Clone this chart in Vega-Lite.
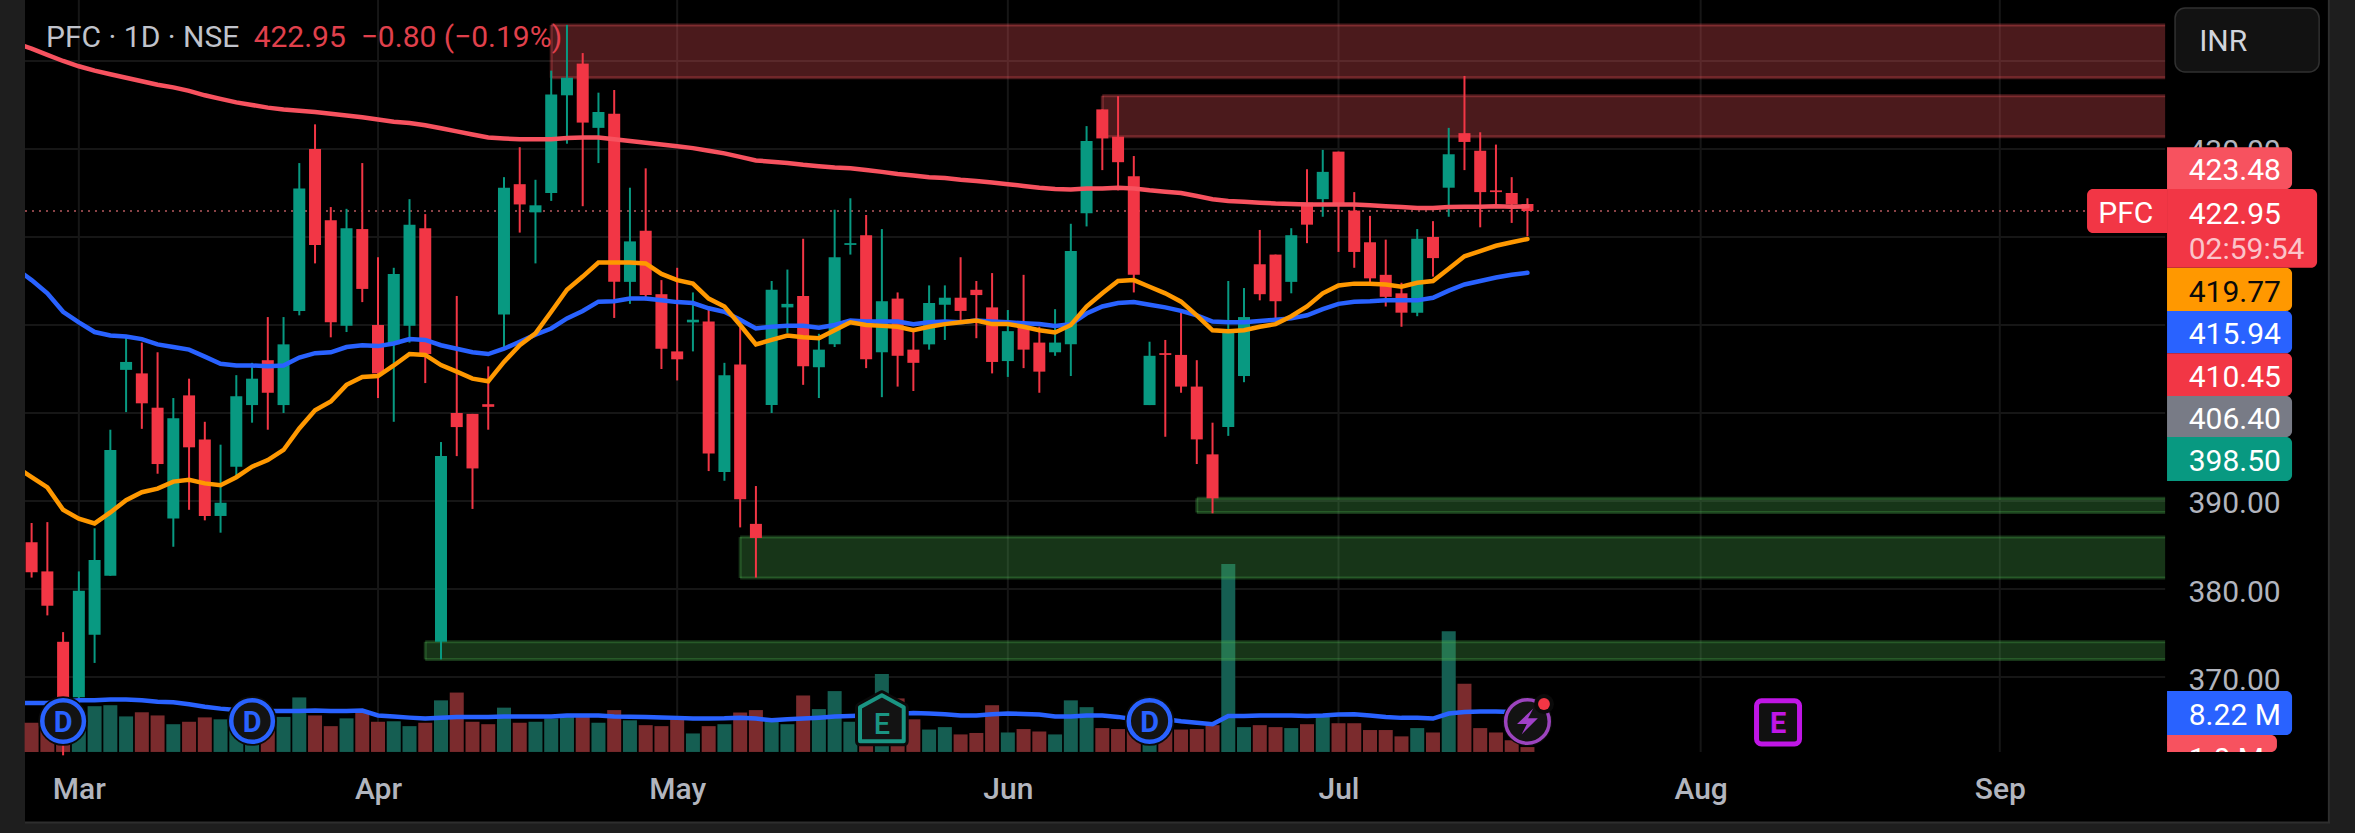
{
"$schema":"https://vega.github.io/schema/vega-lite/v6.json",
"autosize":{"type":"none"},
"padding":{"left":25,"right":25,"top":0,"bottom":10},
"width":2305,"height":823,
"background":"#1e1e1e",
"view":{"fill":"#000000","stroke":null},
"config":{"font":"Roboto","text":{"font":"Roboto"}},
"datasets":{
"candles":[
{"i":0,"open":385.3,"high":387.5,"low":381.3,"close":381.9,"volume":6.0},
{"i":1,"open":382.0,"high":387.6,"low":377.0,"close":378.1,"volume":6.0},
{"i":2,"open":374.0,"high":375.1,"low":361.1,"close":367.4,"volume":6.0},
{"i":3,"open":367.7,"high":382.0,"low":366.8,"close":379.8,"volume":6.5},
{"i":4,"open":374.8,"high":386.9,"low":371.6,"close":383.3,"volume":9.4},
{"i":5,"open":381.5,"high":398.1,"low":381.5,"close":395.8,"volume":9.6},
{"i":6,"open":404.9,"high":408.6,"low":400.1,"close":405.8,"volume":7.3},
{"i":7,"open":404.5,"high":408.0,"low":398.2,"close":401.1,"volume":8.15},
{"i":8,"open":400.6,"high":406.9,"low":393.1,"close":394.2,"volume":7.5},
{"i":9,"open":388.0,"high":401.7,"low":384.8,"close":399.4,"volume":5.7},
{"i":10,"open":402.0,"high":403.9,"low":389.0,"close":396.1,"volume":6.2},
{"i":11,"open":397.0,"high":399.0,"low":387.8,"close":388.3,"volume":7.1},
{"i":12,"open":388.3,"high":396.4,"low":386.4,"close":389.8,"volume":6.7},
{"i":13,"open":393.9,"high":404.3,"low":392.5,"close":401.9,"volume":6.0},
{"i":14,"open":400.9,"high":405.7,"low":398.9,"close":403.9,"volume":6.0},
{"i":15,"open":406.0,"high":410.9,"low":398.1,"close":402.3,"volume":6.0},
{"i":16,"open":400.9,"high":410.9,"low":400.0,"close":407.8,"volume":7.2},
{"i":17,"open":411.6,"high":428.4,"low":411.1,"close":425.5,"volume":11.2},
{"i":18,"open":430.0,"high":432.8,"low":417.0,"close":419.1,"volume":7.5},
{"i":19,"open":421.9,"high":423.4,"low":408.6,"close":410.3,"volume":5.3},
{"i":20,"open":409.9,"high":423.2,"low":409.2,"close":421.0,"volume":6.9},
{"i":21,"open":420.9,"high":428.4,"low":412.6,"close":414.1,"volume":8.2},
{"i":22,"open":410.0,"high":417.7,"low":401.7,"close":404.5,"volume":6.2},
{"i":23,"open":407.8,"high":416.5,"low":399.0,"close":415.8,"volume":6.3},
{"i":24,"open":409.9,"high":424.3,"low":408.0,"close":421.4,"volume":5.3},
{"i":25,"open":421.0,"high":422.6,"low":403.4,"close":406.7,"volume":6.0},
{"i":26,"open":374.0,"high":396.7,"low":372.0,"close":395.1,"volume":10.6},
{"i":27,"open":400.0,"high":413.3,"low":395.1,"close":398.4,"volume":12.2},
{"i":28,"open":399.9,"high":399.9,"low":389.1,"close":393.7,"volume":6.2},
{"i":29,"open":401.0,"high":405.3,"low":398.1,"close":400.7,"volume":5.7},
{"i":30,"open":411.2,"high":426.8,"low":407.5,"close":425.6,"volume":9.1},
{"i":31,"open":426.0,"high":430.2,"low":420.5,"close":423.7,"volume":6.0},
{"i":32,"open":422.8,"high":426.5,"low":417.0,"close":423.6,"volume":6.2},
{"i":33,"open":425.0,"high":438.9,"low":424.1,"close":436.2,"volume":6.85},
{"i":34,"open":436.1,"high":444.1,"low":430.6,"close":438.1,"volume":7.2},
{"i":35,"open":439.7,"high":440.9,"low":423.5,"close":433.0,"volume":7.5},
{"i":36,"open":432.4,"high":436.4,"low":428.4,"close":434.2,"volume":6.0},
{"i":37,"open":434.0,"high":436.7,"low":410.8,"close":414.9,"volume":8.6},
{"i":38,"open":414.9,"high":425.6,"low":412.4,"close":419.5,"volume":6.5},
{"i":39,"open":420.7,"high":427.8,"low":412.8,"close":413.4,"volume":5.5},
{"i":40,"open":413.5,"high":415.1,"low":405.0,"close":407.3,"volume":5.3},
{"i":41,"open":407.0,"high":416.5,"low":403.7,"close":406.1,"volume":7.2},
{"i":42,"open":410.3,"high":413.7,"low":407.0,"close":410.6,"volume":3.8},
{"i":43,"open":410.4,"high":411.9,"low":393.4,"close":395.4,"volume":5.3},
{"i":44,"open":393.3,"high":405.7,"low":392.3,"close":404.3,"volume":5.7},
{"i":45,"open":405.5,"high":409.7,"low":387.0,"close":390.2,"volume":8.1},
{"i":46,"open":387.4,"high":391.7,"low":381.3,"close":385.8,"volume":8.6},
{"i":47,"open":400.9,"high":415.0,"low":400.0,"close":414.0,"volume":6.5},
{"i":48,"open":412.0,"high":416.3,"low":409.1,"close":412.4,"volume":5.7},
{"i":49,"open":413.3,"high":419.8,"low":403.2,"close":405.3,"volume":11.6},
{"i":50,"open":405.2,"high":409.0,"low":401.7,"close":407.2,"volume":8.8},
{"i":51,"open":407.8,"high":423.1,"low":407.5,"close":417.7,"volume":12.5},
{"i":52,"open":419.1,"high":424.4,"low":418.0,"close":419.3,"volume":6.2},
{"i":53,"open":420.2,"high":422.5,"low":405.1,"close":406.1,"volume":5.0},
{"i":54,"open":406.9,"high":420.9,"low":401.8,"close":412.7,"volume":16.0},
{"i":55,"open":413.0,"high":413.7,"low":403.0,"close":406.5,"volume":11.0},
{"i":56,"open":407.2,"high":409.4,"low":402.5,"close":405.7,"volume":6.7},
{"i":57,"open":407.8,"high":414.5,"low":407.2,"close":412.5,"volume":4.6},
{"i":58,"open":412.3,"high":414.5,"low":408.3,"close":413.1,"volume":5.1},
{"i":59,"open":413.1,"high":417.7,"low":410.3,"close":411.6,"volume":3.6},
{"i":60,"open":414.0,"high":415.0,"low":408.5,"close":413.4,"volume":3.9},
{"i":61,"open":412.0,"high":415.9,"low":404.5,"close":405.8,"volume":9.6},
{"i":62,"open":405.9,"high":411.7,"low":404.1,"close":409.3,"volume":4.0},
{"i":63,"open":409.9,"high":415.7,"low":405.1,"close":407.2,"volume":4.7},
{"i":64,"open":408.0,"high":409.8,"low":402.3,"close":404.7,"volume":4.2},
{"i":65,"open":406.9,"high":411.8,"low":406.5,"close":408.0,"volume":3.6},
{"i":66,"open":407.8,"high":421.5,"low":404.2,"close":418.4,"volume":10.6},
{"i":67,"open":422.7,"high":432.6,"low":421.2,"close":430.9,"volume":9.2},
{"i":68,"open":434.5,"high":434.5,"low":427.6,"close":431.2,"volume":4.9},
{"i":69,"open":431.4,"high":436.0,"low":425.3,"close":428.5,"volume":4.7},
{"i":70,"open":426.9,"high":429.2,"low":413.7,"close":415.7,"volume":5.0},
{"i":71,"open":400.9,"high":408.1,"low":400.9,"close":406.5,"volume":5.0},
{"i":72,"open":406.8,"high":408.3,"low":397.3,"close":406.6,"volume":4.5},
{"i":73,"open":406.6,"high":411.5,"low":402.3,"close":403.0,"volume":4.6},
{"i":74,"open":403.0,"high":406.0,"low":394.2,"close":397.0,"volume":4.7},
{"i":75,"open":395.3,"high":398.9,"low":388.6,"close":390.3,"volume":5.5},
{"i":76,"open":398.4,"high":415.0,"low":397.4,"close":409.1,"volume":38.6},
{"i":77,"open":404.2,"high":414.2,"low":403.5,"close":410.9,"volume":5.1},
{"i":78,"open":416.9,"high":420.8,"low":412.8,"close":413.5,"volume":5.5},
{"i":79,"open":418.0,"high":418.0,"low":410.3,"close":412.7,"volume":5.1},
{"i":80,"open":414.9,"high":421.0,"low":413.6,"close":420.2,"volume":4.9},
{"i":81,"open":423.9,"high":427.7,"low":419.3,"close":421.4,"volume":5.7},
{"i":82,"open":424.3,"high":429.9,"low":422.3,"close":427.4,"volume":7.5},
{"i":83,"open":429.7,"high":429.7,"low":418.3,"close":423.6,"volume":5.9},
{"i":84,"open":423.0,"high":425.1,"low":416.5,"close":418.3,"volume":5.9},
{"i":85,"open":419.4,"high":422.4,"low":414.8,"close":415.3,"volume":4.5},
{"i":86,"open":415.7,"high":419.7,"low":412.1,"close":413.2,"volume":4.5},
{"i":87,"open":413.6,"high":414.8,"low":409.8,"close":411.4,"volume":3.2},
{"i":88,"open":411.4,"high":420.9,"low":411.0,"close":419.8,"volume":4.9},
{"i":89,"open":420.0,"high":421.8,"low":415.5,"close":417.6,"volume":4.0},
{"i":90,"open":425.6,"high":432.4,"low":422.3,"close":429.4,"volume":24.8},
{"i":91,"open":431.8,"high":438.3,"low":427.6,"close":430.8,"volume":14.0},
{"i":92,"open":429.8,"high":431.9,"low":421.1,"close":425.1,"volume":4.9},
{"i":93,"open":425.3,"high":430.5,"low":423.4,"close":425.1,"volume":4.0},
{"i":94,"open":425.0,"high":426.8,"low":421.6,"close":423.7,"volume":2.4},
{"i":95,"open":423.75,"high":424.4,"low":420.1,"close":422.95,"volume":1.0}
],
"averages":[
{"i":-1,"sma200":442.0,"ema50":416.4,"ema20":393.9,"volMA":10.07},
{"i":0,"sma200":441.4,"ema50":415.1,"ema20":392.7,"volMA":10.07},
{"i":1,"sma200":440.7,"ema50":413.6,"ema20":391.55,"volMA":10.07},
{"i":2,"sma200":440.0,"ema50":411.5,"ema20":389.0,"volMA":10.3},
{"i":3,"sma200":439.4,"ema50":410.3,"ema20":388.0,"volMA":10.6},
{"i":4,"sma200":438.9,"ema50":409.2,"ema20":387.45,"volMA":10.6},
{"i":5,"sma200":438.5,"ema50":408.8,"ema20":388.7,"volMA":10.75},
{"i":6,"sma200":438.1,"ema50":408.7,"ema20":390.1,"volMA":10.75},
{"i":7,"sma200":437.7,"ema50":408.4,"ema20":391.0,"volMA":10.6},
{"i":8,"sma200":437.3,"ema50":407.8,"ema20":391.4,"volMA":10.3},
{"i":9,"sma200":437.0,"ema50":407.5,"ema20":392.2,"volMA":10.2},
{"i":10,"sma200":436.6,"ema50":407.2,"ema20":392.4,"volMA":9.8},
{"i":11,"sma200":436.1,"ema50":406.4,"ema20":392.0,"volMA":9.3},
{"i":12,"sma200":435.7,"ema50":405.6,"ema20":391.8,"volMA":8.9},
{"i":13,"sma200":435.3,"ema50":405.4,"ema20":392.7,"volMA":8.6},
{"i":14,"sma200":435.0,"ema50":405.4,"ema20":393.9,"volMA":8.5},
{"i":15,"sma200":434.7,"ema50":405.3,"ema20":394.65,"volMA":8.4},
{"i":16,"sma200":434.5,"ema50":405.4,"ema20":395.8,"volMA":8.4},
{"i":17,"sma200":434.35,"ema50":406.3,"ema20":398.25,"volMA":8.4},
{"i":18,"sma200":434.2,"ema50":406.8,"ema20":400.3,"volMA":8.5},
{"i":19,"sma200":434.0,"ema50":406.9,"ema20":401.3,"volMA":8.4},
{"i":20,"sma200":433.8,"ema50":407.5,"ema20":403.2,"volMA":8.4},
{"i":21,"sma200":433.6,"ema50":407.7,"ema20":404.1,"volMA":8.5},
{"i":22,"sma200":433.35,"ema50":407.6,"ema20":404.2,"volMA":7.5},
{"i":23,"sma200":433.1,"ema50":407.9,"ema20":405.4,"volMA":7.3},
{"i":24,"sma200":432.95,"ema50":408.4,"ema20":406.7,"volMA":7.05},
{"i":25,"sma200":432.7,"ema50":408.3,"ema20":406.6,"volMA":6.85},
{"i":26,"sma200":432.35,"ema50":407.7,"ema20":405.45,"volMA":7.05},
{"i":27,"sma200":432.0,"ema50":407.3,"ema20":404.7,"volMA":7.2},
{"i":28,"sma200":431.65,"ema50":406.9,"ema20":403.9,"volMA":7.2},
{"i":29,"sma200":431.3,"ema50":406.7,"ema20":403.6,"volMA":7.2},
{"i":30,"sma200":431.2,"ema50":407.3,"ema20":405.8,"volMA":7.3},
{"i":31,"sma200":431.1,"ema50":408.1,"ema20":407.7,"volMA":7.3},
{"i":32,"sma200":431.1,"ema50":408.9,"ema20":409.05,"volMA":7.3},
{"i":33,"sma200":431.1,"ema50":409.6,"ema20":411.5,"volMA":7.3},
{"i":34,"sma200":431.25,"ema50":410.75,"ema20":414.0,"volMA":7.5},
{"i":35,"sma200":431.3,"ema50":411.6,"ema20":415.5,"volMA":7.5},
{"i":36,"sma200":431.3,"ema50":412.65,"ema20":417.1,"volMA":7.5},
{"i":37,"sma200":431.1,"ema50":412.7,"ema20":417.1,"volMA":7.3},
{"i":38,"sma200":430.9,"ema50":413.0,"ema20":417.1,"volMA":7.25},
{"i":39,"sma200":430.7,"ema50":413.0,"ema20":417.0,"volMA":7.2},
{"i":40,"sma200":430.5,"ema50":412.8,"ema20":415.8,"volMA":7.1},
{"i":41,"sma200":430.3,"ema50":412.6,"ema20":415.1,"volMA":7.0},
{"i":42,"sma200":430.1,"ema50":412.5,"ema20":414.7,"volMA":6.85},
{"i":43,"sma200":429.8,"ema50":411.9,"ema20":413.0,"volMA":6.85},
{"i":44,"sma200":429.5,"ema50":411.5,"ema20":412.1,"volMA":6.9},
{"i":45,"sma200":429.1,"ema50":410.6,"ema20":410.0,"volMA":7.05},
{"i":46,"sma200":428.7,"ema50":409.6,"ema20":407.8,"volMA":6.85},
{"i":47,"sma200":428.55,"ema50":409.8,"ema20":408.3,"volMA":6.5},
{"i":48,"sma200":428.4,"ema50":409.9,"ema20":408.8,"volMA":6.7},
{"i":49,"sma200":428.2,"ema50":409.9,"ema20":408.6,"volMA":6.85},
{"i":50,"sma200":428.05,"ema50":409.7,"ema20":408.5,"volMA":7.05},
{"i":51,"sma200":427.9,"ema50":410.0,"ema20":409.4,"volMA":7.3},
{"i":52,"sma200":427.8,"ema50":410.5,"ema20":410.3,"volMA":7.4},
{"i":53,"sma200":427.6,"ema50":410.4,"ema20":410.0,"volMA":7.5},
{"i":54,"sma200":427.4,"ema50":410.4,"ema20":409.9,"volMA":7.6},
{"i":55,"sma200":427.15,"ema50":410.4,"ema20":409.8,"volMA":7.8},
{"i":56,"sma200":427.0,"ema50":410.1,"ema20":409.4,"volMA":8.0},
{"i":57,"sma200":426.8,"ema50":410.3,"ema20":409.8,"volMA":7.9},
{"i":58,"sma200":426.7,"ema50":410.4,"ema20":410.1,"volMA":7.75},
{"i":59,"sma200":426.5,"ema50":410.3,"ema20":410.3,"volMA":7.5},
{"i":60,"sma200":426.35,"ema50":410.5,"ema20":410.5,"volMA":7.5},
{"i":61,"sma200":426.2,"ema50":410.4,"ema20":410.1,"volMA":7.75},
{"i":62,"sma200":426.0,"ema50":410.3,"ema20":410.1,"volMA":7.9},
{"i":63,"sma200":425.8,"ema50":410.2,"ema20":409.8,"volMA":7.8},
{"i":64,"sma200":425.6,"ema50":410.1,"ema20":409.4,"volMA":7.7},
{"i":65,"sma200":425.45,"ema50":409.9,"ema20":409.15,"volMA":7.3},
{"i":66,"sma200":425.4,"ema50":410.1,"ema20":410.0,"volMA":7.3},
{"i":67,"sma200":425.5,"ema50":411.3,"ema20":412.1,"volMA":7.5},
{"i":68,"sma200":425.5,"ema50":412.1,"ema20":413.6,"volMA":7.5},
{"i":69,"sma200":425.6,"ema50":412.5,"ema20":415.0,"volMA":7.2},
{"i":70,"sma200":425.5,"ema50":412.6,"ema20":415.1,"volMA":6.7},
{"i":71,"sma200":425.3,"ema50":412.3,"ema20":414.35,"volMA":6.5},
{"i":72,"sma200":425.15,"ema50":412.0,"ema20":413.6,"volMA":6.7},
{"i":73,"sma200":425.0,"ema50":411.6,"ema20":412.65,"volMA":6.3},
{"i":74,"sma200":424.65,"ema50":411.1,"ema20":411.1,"volMA":6.0},
{"i":75,"sma200":424.3,"ema50":410.4,"ema20":409.4,"volMA":5.7},
{"i":76,"sma200":424.1,"ema50":410.3,"ema20":409.3,"volMA":7.4},
{"i":77,"sma200":424.0,"ema50":410.3,"ema20":409.4,"volMA":7.4},
{"i":78,"sma200":423.9,"ema50":410.45,"ema20":409.8,"volMA":7.5},
{"i":79,"sma200":423.8,"ema50":410.6,"ema20":410.1,"volMA":7.5},
{"i":80,"sma200":423.75,"ema50":410.75,"ema20":411.0,"volMA":7.5},
{"i":81,"sma200":423.7,"ema50":411.1,"ema20":412.1,"volMA":7.4},
{"i":82,"sma200":423.7,"ema50":411.8,"ema20":413.6,"volMA":7.5},
{"i":83,"sma200":423.7,"ema50":412.4,"ema20":414.5,"volMA":7.7},
{"i":84,"sma200":423.7,"ema50":412.65,"ema20":414.7,"volMA":7.75},
{"i":85,"sma200":423.6,"ema50":412.7,"ema20":414.7,"volMA":7.5},
{"i":86,"sma200":423.5,"ema50":412.8,"ema20":414.6,"volMA":7.2},
{"i":87,"sma200":423.4,"ema50":412.8,"ema20":414.35,"volMA":7.0},
{"i":88,"sma200":423.3,"ema50":412.8,"ema20":414.8,"volMA":7.0},
{"i":89,"sma200":423.3,"ema50":413.1,"ema20":415.0,"volMA":6.85},
{"i":90,"sma200":423.4,"ema50":413.9,"ema20":416.4,"volMA":7.9},
{"i":91,"sma200":423.45,"ema50":414.6,"ema20":417.8,"volMA":8.2},
{"i":92,"sma200":423.45,"ema50":415.0,"ema20":418.4,"volMA":8.3},
{"i":93,"sma200":423.5,"ema50":415.4,"ema20":419.0,"volMA":8.3},
{"i":94,"sma200":423.45,"ema50":415.7,"ema20":419.4,"volMA":8.2},
{"i":95,"sma200":423.48,"ema50":415.94,"ema20":419.77,"volMA":8.22}
],
"hgrid":[{"price":440,"from":-0.42,"to":135.5},{"price":430,"from":-0.42,"to":135.5},{"price":420,"from":-0.42,"to":135.5},{"price":410,"from":-0.42,"to":135.5},{"price":400,"from":-0.42,"to":135.5},{"price":390,"from":-0.42,"to":135.5},{"price":380,"from":-0.42,"to":135.5},{"price":370,"from":-0.42,"to":135.5}],
"vgrid":[{"i":3,"top":446.93,"bottom":361.47},{"i":22,"top":446.93,"bottom":361.47},{"i":41,"top":446.93,"bottom":361.47},{"i":62,"top":446.93,"bottom":361.47},{"i":83,"top":446.93,"bottom":361.47},{"i":106,"top":446.93,"bottom":361.47},{"i":125,"top":446.93,"bottom":361.47}],
"redZones":[{"from":33,"to":135.5,"top":444.1,"bottom":438.1},{"from":68,"to":135.5,"top":436.05,"bottom":431.4}],
"greenZones":[{"from":74,"to":135.5,"top":390.3,"bottom":388.7},{"from":45,"to":135.5,"top":385.9,"bottom":381.25},{"from":25,"to":135.5,"top":374.0,"bottom":372.0}],
"lastPrice":[{"price":422.95,"from":-0.42,"to":130.5}],
"frame":[{"x":145.9,"top":446.93,"bottom":353.41}],
"frameB":[{"price":353.46,"from":-0.42,"to":145.97}],
"tagBoxes":[
{"series":"sma200","from":135.62,"to":143.56,"top":430.2,"bottom":425.45},
{"series":"vol","from":135.62,"to":143.56,"top":368.4,"bottom":363.4},
{"series":"sma200","from":135.62,"to":142.6,"top":363.4,"bottom":361.47},
{"series":"ema20","from":135.62,"to":143.56,"top":416.5,"bottom":411.6},
{"series":"ema50","from":135.62,"to":143.56,"top":411.6,"bottom":406.8},
{"series":"last","from":135.62,"to":143.56,"top":406.8,"bottom":401.93},
{"series":"ma","from":135.62,"to":143.56,"top":401.93,"bottom":397.27},
{"series":"up","from":135.62,"to":143.56,"top":397.27,"bottom":392.27},
{"series":"last","from":135.62,"to":145.15,"top":425.45,"bottom":416.5}
],
"tabBox":[{"from":130.54,"to":135.62,"top":425.45,"bottom":420.45}],
"tagText":[
{"i":137,"price":427.84,"label":"423.48","series":"white"},
{"i":137,"price":422.84,"label":"422.95","series":"white"},
{"i":137,"price":418.9,"label":"02:59:54","series":"timer"},
{"i":137,"price":414.03,"label":"419.77","series":"dark"},
{"i":137,"price":409.2,"label":"415.94","series":"white"},
{"i":137,"price":404.37,"label":"410.45","series":"white"},
{"i":137,"price":399.6,"label":"406.40","series":"white"},
{"i":137,"price":394.77,"label":"398.50","series":"white"},
{"i":137,"price":365.9,"label":"8.22 M","series":"white"},
{"i":137,"price":360.9,"label":"1.0 M","series":"white"}
],
"tabText":[{"i":133,"price":422.9,"label":"PFC"}],
"mask":[{"from":135.5,"to":144,"top":361.47,"bottom":356}],
"inrBox":[{"from":136.13,"to":145.28,"top":446.02,"bottom":438.75}],
"inrText":[{"i":137.66,"price":442.38,"label":"INR"}],
"headerGrey":[{"i":0.915,"price":442.84,"label":"PFC · 1D · NSE"}],
"headerRed":[{"i":14.1,"price":442.84,"label":"422.95\u00a0\u00a0−0.80 (−0.19%)"}],
"dividends":[{"i":2,"price":365.0,"label":"D"},{"i":14,"price":365.0,"label":"D"},{"i":71,"price":365.0,"label":"D"}],
"earnings":[{"i":54,"price":365.3,"label":"E"}],
"futureEarningsBox":[{"from":109.55,"to":112.28,"top":367.3,"bottom":362.4}],
"futureEarningsText":[{"i":110.92,"price":364.85,"label":"E"}],
"bolt":[{"i":95,"price":364.95}],
"alert":[{"i":96.05,"price":366.93}]
},
"encoding":{"x":{"field":"i","type":"quantitative","title":null,"scale":{"domain":[-0.42,145.97],"nice":false,"zero":false,"padding":0},
"axis":{"orient":"bottom","offset":-49,"values":[3,22,41,62,83,106,125],"grid":false,"domain":false,"ticks":false,"labelPadding":0,"labelFontSize":30,"labelFontWeight":500,"labelColor":"#b2b5be","labelFont":"Roboto","labelOverlap":false,"labelFlush":false,"labelBaseline":"top","labelExpr":"datum.value==3?'Mar':datum.value==22?'Apr':datum.value==41?'May':datum.value==62?'Jun':datum.value==83?'Jul':datum.value==106?'Aug':'Sep'"}}},
"resolve":{"scale":{"y":"independent"}},
"layer":[
{"data":{"name":"hgrid"},"mark":{"type":"rule","stroke":"#161616","strokeWidth":2},
 "encoding":{"x":{"field":"from","type":"quantitative"},"x2":{"field":"to"},
 "y":{"field":"price","type":"quantitative","scale":{"domain":[353.41,446.93],"nice":false,"zero":false},"title":null,
 "axis":{"orient":"right","offset":-142,"values":[370,380,390,430],"format":".2f","grid":false,"domain":false,"ticks":false,"labelPadding":0,"labelOffset":3,"labelFontSize":30,"labelColor":"#b2b5be","labelFont":"Roboto","labelOverlap":false,"labelFlush":false}}}},
{"layer":[
{"data":{"name":"vgrid"},"mark":{"type":"rule","stroke":"#161616","strokeWidth":2},
 "encoding":{"y":{"field":"top","type":"quantitative","axis":null,"scale":{"domain":[353.41,446.93],"nice":false,"zero":false}},"y2":{"field":"bottom"}}},
{"data":{"name":"frame"},"mark":{"type":"rule","stroke":"#2e2e2e","strokeWidth":2},
 "encoding":{"x":{"field":"x","type":"quantitative"},"y":{"field":"top","type":"quantitative","axis":null},"y2":{"field":"bottom"}}},
{"data":{"name":"frameB"},"mark":{"type":"rule","stroke":"#2e2e2e","strokeWidth":2},
 "encoding":{"x":{"field":"from","type":"quantitative"},"x2":{"field":"to"},"y":{"field":"price","type":"quantitative","axis":null}}}
]},
{"data":{"name":"candles"},"mark":{"type":"bar","size":14},
 "encoding":{"y":{"field":"volume","type":"quantitative","stack":null,"axis":null,"scale":{"domain":[-14.6,154.5],"nice":false,"zero":false}},
 "color":{"condition":{"test":"datum.close>=datum.open","value":"#155e52"},"value":"#7b2b2d"}}},
{"layer":[
{"data":{"name":"redZones"},"mark":{"type":"rect","fill":"#f7575d","fillOpacity":0.3},
 "encoding":{"x":{"field":"from","type":"quantitative"},"x2":{"field":"to"},"y":{"field":"top","type":"quantitative","axis":null,"scale":{"domain":[353.41,446.93],"nice":false,"zero":false}},"y2":{"field":"bottom"}}},
{"data":{"name":"redZones"},"mark":{"type":"rule","stroke":"#f7575d","strokeOpacity":0.3,"strokeWidth":3},
 "encoding":{"x":{"field":"from","type":"quantitative"},"x2":{"field":"to"},"y":{"field":"top","type":"quantitative","axis":null}}},
{"data":{"name":"redZones"},"mark":{"type":"rule","stroke":"#f7575d","strokeOpacity":0.3,"strokeWidth":3},
 "encoding":{"x":{"field":"from","type":"quantitative"},"x2":{"field":"to"},"y":{"field":"bottom","type":"quantitative","axis":null}}},
{"data":{"name":"redZones"},"mark":{"type":"rule","stroke":"#f7575d","strokeOpacity":0.3,"strokeWidth":3},
 "encoding":{"x":{"field":"from","type":"quantitative"},"y":{"field":"top","type":"quantitative","axis":null},"y2":{"field":"bottom"}}},
{"data":{"name":"greenZones"},"mark":{"type":"rect","fill":"#4caf50","fillOpacity":0.3},
 "encoding":{"x":{"field":"from","type":"quantitative"},"x2":{"field":"to"},"y":{"field":"top","type":"quantitative","axis":null},"y2":{"field":"bottom"}}},
{"data":{"name":"greenZones"},"mark":{"type":"rule","stroke":"#4caf50","strokeOpacity":0.3,"strokeWidth":3},
 "encoding":{"x":{"field":"from","type":"quantitative"},"x2":{"field":"to"},"y":{"field":"top","type":"quantitative","axis":null}}},
{"data":{"name":"greenZones"},"mark":{"type":"rule","stroke":"#4caf50","strokeOpacity":0.3,"strokeWidth":3},
 "encoding":{"x":{"field":"from","type":"quantitative"},"x2":{"field":"to"},"y":{"field":"bottom","type":"quantitative","axis":null}}},
{"data":{"name":"greenZones"},"mark":{"type":"rule","stroke":"#4caf50","strokeOpacity":0.3,"strokeWidth":3},
 "encoding":{"x":{"field":"from","type":"quantitative"},"y":{"field":"top","type":"quantitative","axis":null},"y2":{"field":"bottom"}}},
{"data":{"name":"lastPrice"},"mark":{"type":"rule","stroke":"#b85a5f","strokeWidth":1.5,"strokeDash":[2,5]},
 "encoding":{"x":{"field":"from","type":"quantitative"},"x2":{"field":"to"},"y":{"field":"price","type":"quantitative","axis":null}}},
{"data":{"name":"candles"},"mark":{"type":"rule","strokeWidth":2},
 "encoding":{"y":{"field":"high","type":"quantitative","axis":null},"y2":{"field":"low"},
 "color":{"condition":{"test":"datum.close>=datum.open","value":"#089981"},"value":"#f23645"}}},
{"data":{"name":"candles"},"mark":{"type":"bar","size":12},
 "encoding":{"y":{"field":"open","type":"quantitative","axis":null},"y2":{"field":"close"},
 "color":{"condition":{"test":"datum.close>=datum.open","value":"#089981"},"value":"#f23645"}}},
{"data":{"name":"averages"},"mark":{"type":"line","stroke":"#f7525f","strokeWidth":4.5,"clip":true,"strokeCap":"round"},
 "encoding":{"y":{"field":"sma200","type":"quantitative","axis":null}}},
{"data":{"name":"averages"},"mark":{"type":"line","stroke":"#2962ff","strokeWidth":4.5,"clip":true,"strokeCap":"round"},
 "encoding":{"y":{"field":"ema50","type":"quantitative","axis":null}}},
{"data":{"name":"averages"},"mark":{"type":"line","stroke":"#ff9800","strokeWidth":4.5,"clip":true,"strokeCap":"round"},
 "encoding":{"y":{"field":"ema20","type":"quantitative","axis":null}}}
]},
{"data":{"name":"averages"},"mark":{"type":"line","stroke":"#2962ff","strokeWidth":4.5,"clip":true},
 "encoding":{"y":{"field":"volMA","type":"quantitative","axis":null,"scale":{"domain":[-14.6,154.5],"nice":false,"zero":false}}}},
{"layer":[
{"data":{"name":"dividends"},"mark":{"type":"point","shape":"circle","filled":true,"fill":"#0a0a0a","size":2460,"opacity":1},
 "encoding":{"y":{"field":"price","type":"quantitative","axis":null,"scale":{"domain":[353.41,446.93],"nice":false,"zero":false}}}},
{"data":{"name":"dividends"},"mark":{"type":"point","shape":"circle","fill":"#131313","stroke":"#2962ff","strokeWidth":4.5,"size":1735,"opacity":1},
 "encoding":{"y":{"field":"price","type":"quantitative","axis":null}}},
{"data":{"name":"dividends"},"mark":{"type":"text","fontSize":29,"fontWeight":700,"color":"#2962ff","align":"center","baseline":"middle","dy":2},
 "encoding":{"y":{"field":"price","type":"quantitative","axis":null},"text":{"field":"label"}}},
{"data":{"name":"earnings"},"mark":{"type":"point","shape":"M0,-1 L0.95,-0.48 L0.95,1 L-0.95,1 L-0.95,-0.48 Z","fill":"#131313","stroke":"#0a0a0a","strokeWidth":10,"strokeJoin":"round","size":2116,"opacity":1},
 "encoding":{"y":{"field":"price","type":"quantitative","axis":null}}},
{"data":{"name":"earnings"},"mark":{"type":"point","shape":"M0,-1 L0.95,-0.48 L0.95,1 L-0.95,1 L-0.95,-0.48 Z","fill":"#131313","stroke":"#1a9583","strokeWidth":4,"strokeJoin":"round","size":2116,"opacity":1},
 "encoding":{"y":{"field":"price","type":"quantitative","axis":null}}},
{"data":{"name":"earnings"},"mark":{"type":"text","fontSize":29,"fontWeight":500,"color":"#1a9583","align":"center","baseline":"middle","dy":7},
 "encoding":{"y":{"field":"price","type":"quantitative","axis":null},"text":{"field":"label"}}},
{"data":{"name":"bolt"},"mark":{"type":"point","shape":"circle","filled":true,"fill":"#0a0a0a","size":2460,"opacity":1},
 "encoding":{"y":{"field":"price","type":"quantitative","axis":null}}},
{"data":{"name":"bolt"},"mark":{"type":"point","shape":"circle","fill":"#131313","stroke":"#9c44be","strokeWidth":3.5,"size":1900,"opacity":1},
 "encoding":{"y":{"field":"price","type":"quantitative","axis":null}}},
{"data":{"name":"bolt"},"mark":{"type":"point","shape":"M0.45,-1 L-0.8,0.2 L-0.05,0.2 L-0.45,1 L0.8,-0.25 L0.05,-0.25 Z","filled":true,"fill":"#a040c8","size":676,"opacity":1},
 "encoding":{"y":{"field":"price","type":"quantitative","axis":null}}},
{"data":{"name":"alert"},"mark":{"type":"point","shape":"circle","filled":true,"fill":"#0a0a0a","size":400,"opacity":1},
 "encoding":{"y":{"field":"price","type":"quantitative","axis":null}}},
{"data":{"name":"alert"},"mark":{"type":"point","shape":"circle","filled":true,"fill":"#f23645","size":140,"opacity":1},
 "encoding":{"y":{"field":"price","type":"quantitative","axis":null}}},
{"data":{"name":"futureEarningsBox"},"mark":{"type":"rect","fill":"#111111","stroke":"#c016e6","strokeWidth":5,"cornerRadius":5},
 "encoding":{"x":{"field":"from","type":"quantitative"},"x2":{"field":"to"},"y":{"field":"top","type":"quantitative","axis":null},"y2":{"field":"bottom"}}},
{"data":{"name":"futureEarningsText"},"mark":{"type":"text","fontSize":29,"fontWeight":700,"color":"#c016e6","align":"center","baseline":"middle","dy":2},
 "encoding":{"y":{"field":"price","type":"quantitative","axis":null},"text":{"field":"label"}}},
{"data":{"name":"tabBox"},"mark":{"type":"rect","fill":"#f23645","cornerRadiusTopLeft":6,"cornerRadiusBottomLeft":6},
 "encoding":{"x":{"field":"from","type":"quantitative"},"x2":{"field":"to"},"y":{"field":"top","type":"quantitative","axis":null},"y2":{"field":"bottom"}}},
{"data":{"name":"tagBoxes"},"mark":{"type":"rect","cornerRadiusTopRight":6,"cornerRadiusBottomRight":6},
 "encoding":{"x":{"field":"from","type":"quantitative"},"x2":{"field":"to"},"y":{"field":"top","type":"quantitative","axis":null},"y2":{"field":"bottom"},
 "color":{"field":"series","type":"nominal","legend":null,"scale":{"domain":["sma200","last","ema20","ema50","ma","up","vol"],"range":["#f7525f","#f23645","#ff9800","#2962ff","#787b86","#089981","#2962ff"]}}}},
{"data":{"name":"tagText"},"mark":{"type":"text","fontSize":30,"align":"left","baseline":"middle","dy":3},
 "encoding":{"y":{"field":"price","type":"quantitative","axis":null},"text":{"field":"label"},
 "fill":{"condition":[{"test":"datum.series=='dark'","value":"#0a0a0a"},{"test":"datum.series=='timer'","value":"#fbc4ca"}],"value":"#ffffff"}}},
{"data":{"name":"tabText"},"mark":{"type":"text","fontSize":30,"align":"center","baseline":"middle","color":"#ffffff","dy":3},
 "encoding":{"y":{"field":"price","type":"quantitative","axis":null},"text":{"field":"label"}}},
{"data":{"name":"mask"},"mark":{"type":"rect","fill":"#000000"},
 "encoding":{"x":{"field":"from","type":"quantitative"},"x2":{"field":"to"},"y":{"field":"top","type":"quantitative","axis":null},"y2":{"field":"bottom"}}},
{"data":{"name":"inrBox"},"mark":{"type":"rect","fill":"#121212","stroke":"#303030","strokeWidth":1.5,"cornerRadius":10},
 "encoding":{"x":{"field":"from","type":"quantitative"},"x2":{"field":"to"},"y":{"field":"top","type":"quantitative","axis":null},"y2":{"field":"bottom"}}},
{"data":{"name":"inrText"},"mark":{"type":"text","fontSize":30,"align":"left","baseline":"middle","color":"#d1d4dc","dy":2},
 "encoding":{"y":{"field":"price","type":"quantitative","axis":null},"text":{"field":"label"}}},
{"data":{"name":"headerGrey"},"mark":{"type":"text","fontSize":30,"align":"left","baseline":"middle","color":"#c0c3cb","dy":2},
 "encoding":{"y":{"field":"price","type":"quantitative","axis":null},"text":{"field":"label"}}},
{"data":{"name":"headerRed"},"mark":{"type":"text","fontSize":30,"align":"left","baseline":"middle","color":"#e0404c","dy":2},
 "encoding":{"y":{"field":"price","type":"quantitative","axis":null},"text":{"field":"label"}}}
]}
]
}
